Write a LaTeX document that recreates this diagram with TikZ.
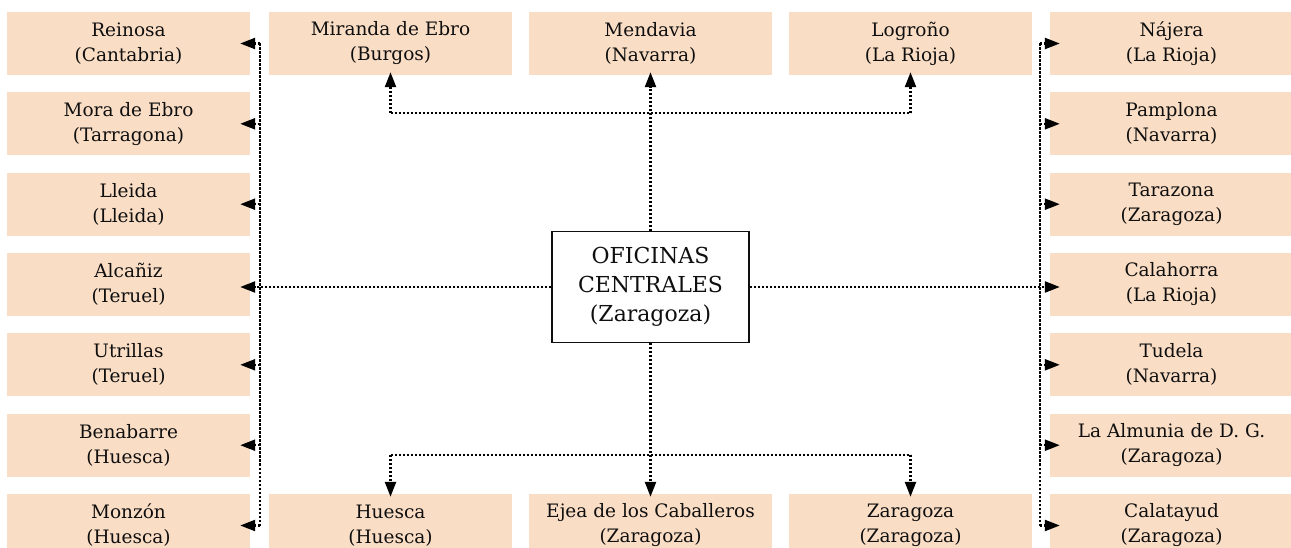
\documentclass[tikz,border=0pt]{standalone}
\usepackage{fontspec}
\setmainfont{DejaVu Serif}
\usetikzlibrary{arrows.meta}
\definecolor{peach}{RGB}{250,221,197}
\definecolor{ink}{RGB}{15,15,15}
\newcommand{\lab}{\fontsize{18.5pt}{25pt}\selectfont}
\newcommand{\biglab}{\fontsize{22pt}{29pt}\selectfont}
\tikzset{
  place/.style={fill=peach, minimum width=243pt, minimum height=63pt, inner sep=0pt,
    align=center, font=\lab, text=ink},
  hq/.style={draw=ink, line width=1.3pt, fill=white, minimum width=197pt, minimum height=111pt,
    inner sep=0pt, align=center, font=\biglab, text=ink},
  conn/.style={line width=2.4pt, dash pattern=on 2.3pt off 1.7pt, line cap=butt, draw=black},
  arr/.style={conn, -{Triangle[length=15pt,width=11pt]}},
}
\begin{document}
\begin{tikzpicture}[x=1pt,y=-1pt]
\useasboundingbox (0,0) rectangle (1291,548);
\clip (0,0) rectangle (1291,548);
% left column
\node[place] (reinosa)   at (128.5,43.5)  {Reinosa\\(Cantabria)};
\node[place] (mora)      at (128.5,123.8) {Mora de Ebro\\(Tarragona)};
\node[place] (lleida)    at (128.5,204.2) {Lleida\\(Lleida)};
\node[place] (alcaniz)   at (128.5,284.5) {Alcañiz\\(Teruel)};
\node[place] (utrillas)  at (128.5,364.8) {Utrillas\\(Teruel)};
\node[place] (benabarre) at (128.5,445.2) {Benabarre\\(Huesca)};
\node[place] (monzon)    at (128.5,525.5) {Monzón\\(Huesca)};
% right column
\node[place] (najera)    at (1171.5,43.5)  {Nájera\\(La Rioja)};
\node[place] (pamplona)  at (1171.5,123.8) {Pamplona\\(Navarra)};
\node[place] (tarazona)  at (1171.5,204.2) {Tarazona\\(Zaragoza)};
\node[place] (calahorra) at (1171.5,284.5) {Calahorra\\(La Rioja)};
\node[place] (tudela)    at (1171.5,364.8) {Tudela\\(Navarra)};
\node[place] (almunia)   at (1171.5,445.2) {La Almunia de D. G.\\(Zaragoza)};
\node[place] (calatayud) at (1171.5,525.5) {Calatayud\\(Zaragoza)};
% top row
\node[place] (miranda)  at (390.5,43.5) {Miranda de Ebro\\(Burgos)};
\node[place] (mendavia) at (650.5,43.5) {Mendavia\\(Navarra)};
\node[place] (logrono)  at (910.5,43.5) {Logroño\\(La Rioja)};
% bottom row
\node[place] (huesca)   at (390.5,525.5) {Huesca\\(Huesca)};
\node[place] (ejea)     at (650.5,525.5) {Ejea de los Caballeros\\(Zaragoza)};
\node[place] (zaragoza) at (910.5,525.5) {Zaragoza\\(Zaragoza)};
% centre
\node[hq] (center) at (650.5,287) {OFICINAS\\CENTRALES\\(Zaragoza)};
% helper coordinates
\coordinate (lt) at (260,43.5);
\coordinate (lb) at (260,525.5);
\coordinate (rt) at (1040,43.5);
\coordinate (rb) at (1040,525.5);
\coordinate (th) at (650.5,113);
\coordinate (bh) at (650.5,455);
% left bus
\draw[conn] (lt) -- (lb);
\foreach \n in {reinosa,mora,lleida,utrillas,benabarre,monzon}
  \draw[arr] (lt |- \n.east) -- ([xshift=-10pt]\n.east);
\draw[arr] (center.west) -- ([xshift=-10pt]center.west -| alcaniz.east);
% right bus
\draw[conn] (rt) -- (rb);
\foreach \n in {najera,pamplona,tarazona,tudela,almunia,calatayud}
  \draw[arr] (rt |- \n.west) -- ([xshift=10pt]\n.west);
\draw[arr] (center.east) -- ([xshift=10pt]center.east -| calahorra.west);
% top
\draw[arr] (center.north) -- ([yshift=3pt]mendavia.south);
\draw[conn] (th -| miranda.south) -- (th -| logrono.south);
\draw[arr] (th -| miranda.south) -- ([yshift=3pt]miranda.south);
\draw[arr] (th -| logrono.south) -- ([yshift=3pt]logrono.south);
% bottom
\draw[arr] (center.south) -- ([yshift=-3pt]ejea.north);
\draw[conn] (bh -| huesca.north) -- (bh -| zaragoza.north);
\draw[arr] (bh -| huesca.north) -- ([yshift=-3pt]huesca.north);
\draw[arr] (bh -| zaragoza.north) -- ([yshift=-3pt]zaragoza.north);
\end{tikzpicture}
\end{document}
